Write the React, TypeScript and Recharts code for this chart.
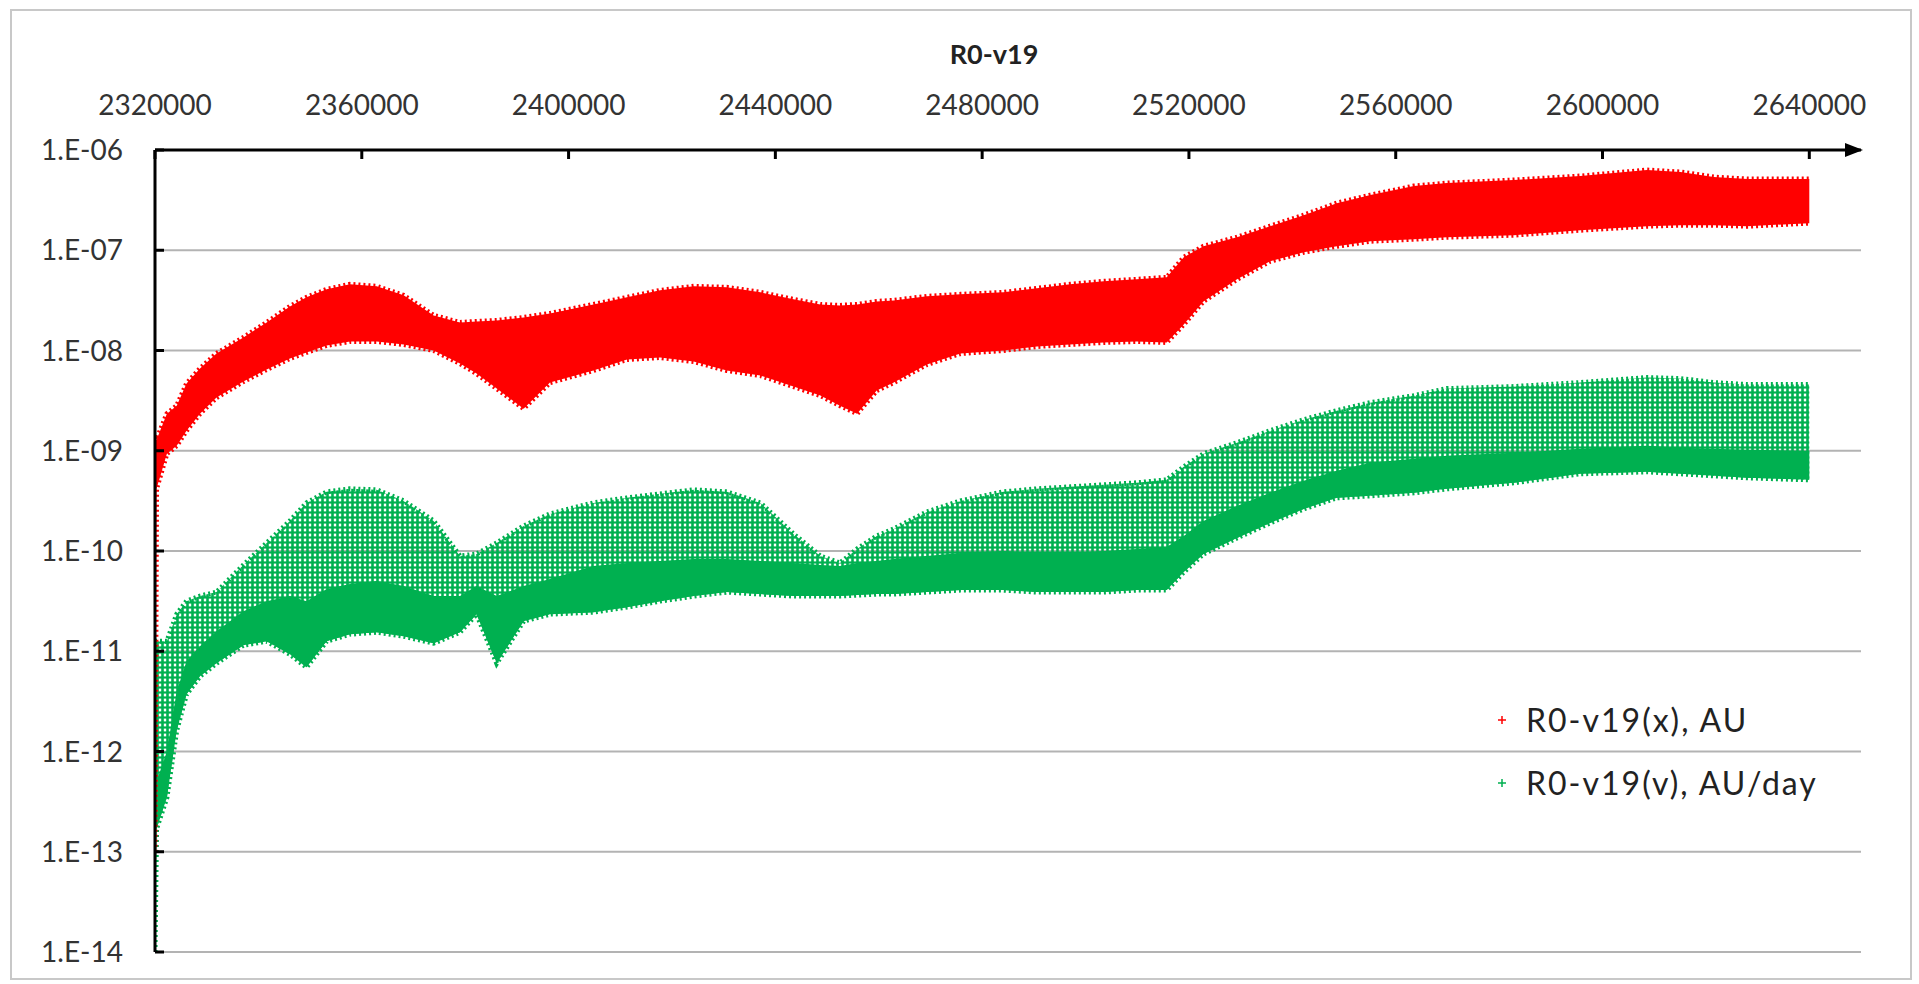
import React from "react";
import { ComposedChart, Area, XAxis, YAxis, CartesianGrid, Legend } from "recharts";

const JD = [
  2320000, 2320300, 2322300, 2324200, 2326100, 2328700, 2331900, 2337100, 2341600, 2346100,
  2349300, 2353200, 2357700, 2362900, 2368100, 2373900, 2379000, 2382200, 2386100, 2391300,
  2396400, 2404800, 2411300, 2417700, 2424200, 2430600, 2437100, 2443500, 2448700, 2452500,
  2455800, 2459600, 2462900, 2469300, 2475800, 2484100, 2490600, 2497000, 2503500, 2509900,
  2515700, 2519000, 2522800, 2529300, 2535700, 2542200, 2548600, 2555100, 2563500, 2569900,
  2582800, 2595700, 2608600, 2615100, 2621500, 2628000, 2640000,
];

// R0-v19(x), AU : upper / lower edge of the scatter band (log10)
const RED_TOP = [
  -8.87, -8.89, -8.63, -8.55, -8.33, -8.18, -8.03, -7.87, -7.72, -7.56,
  -7.47, -7.39, -7.34, -7.36, -7.45, -7.65, -7.72, -7.71, -7.7, -7.67,
  -7.63, -7.54, -7.47, -7.4, -7.36, -7.37, -7.42, -7.49, -7.54, -7.55,
  -7.54, -7.51, -7.5, -7.46, -7.44, -7.42, -7.38, -7.34, -7.31, -7.29,
  -7.27, -7.07, -6.96, -6.87, -6.76, -6.65, -6.53, -6.45, -6.36, -6.33,
  -6.3, -6.26, -6.2, -6.22, -6.27, -6.29, -6.29,
];
const RED_BOT = [
  -13.0, -9.38, -9.03, -8.95, -8.8, -8.63, -8.47, -8.31, -8.19, -8.08,
  -8.02, -7.95, -7.91, -7.91, -7.94, -8.0, -8.13, -8.23, -8.38, -8.58,
  -8.32, -8.2, -8.09, -8.07, -8.11, -8.2, -8.25, -8.36, -8.45, -8.55,
  -8.63, -8.4, -8.32, -8.14, -8.03, -8.0, -7.96, -7.94, -7.92, -7.91,
  -7.92, -7.74, -7.51, -7.29, -7.11, -7.02, -6.96, -6.91, -6.89, -6.87,
  -6.85, -6.8, -6.76, -6.75, -6.75, -6.76, -6.73,
];

// R0-v19(v), AU/day : upper edge, top of the dense part, lower edge (log10)
const GRN_TOP = [
  -10.9, -10.9, -10.9, -10.63, -10.5, -10.45, -10.41, -10.14, -9.92, -9.7,
  -9.52, -9.41, -9.38, -9.39, -9.5, -9.7, -10.05, -10.03, -9.92, -9.75,
  -9.63, -9.52, -9.47, -9.43, -9.39, -9.41, -9.52, -9.83, -10.05, -10.12,
  -9.98, -9.85, -9.78, -9.61, -9.5, -9.41, -9.38, -9.36, -9.34, -9.32,
  -9.29, -9.16, -9.03, -8.92, -8.8, -8.69, -8.6, -8.52, -8.45, -8.38,
  -8.36, -8.32, -8.27, -8.28, -8.32, -8.34, -8.34,
];
const GRN_DENSE = [
  -14.0, -12.3, -12.0, -11.4, -11.1, -10.95, -10.8, -10.6, -10.5, -10.45,
  -10.5, -10.38, -10.33, -10.3, -10.35, -10.45, -10.45, -10.35, -10.45, -10.35,
  -10.28, -10.15, -10.12, -10.1, -10.08, -10.08, -10.1, -10.12, -10.14, -10.15,
  -10.12, -10.1, -10.08, -10.05, -10.02, -10.0, -10.02, -10.02, -10.0, -9.98,
  -9.96, -9.85, -9.7, -9.55, -9.42, -9.3, -9.2, -9.12, -9.08, -9.05,
  -9.02, -8.98, -8.95, -8.97, -8.98, -8.99, -9.0,
];
const GRN_BOT = [
  -14.0, -12.77, -12.46, -11.79, -11.43, -11.25, -11.12, -10.94, -10.9, -11.03,
  -11.16, -10.9, -10.83, -10.81, -10.85, -10.92, -10.81, -10.63, -11.12, -10.7,
  -10.63, -10.61, -10.56, -10.5, -10.45, -10.41, -10.43, -10.45, -10.45, -10.45,
  -10.44, -10.43, -10.43, -10.41, -10.39, -10.39, -10.41, -10.41, -10.41, -10.39,
  -10.39, -10.21, -10.03, -9.87, -9.72, -9.58, -9.47, -9.45, -9.42, -9.38,
  -9.32, -9.23, -9.21, -9.23, -9.25, -9.27, -9.29,
];

const X_TICKS = [2320000, 2360000, 2400000, 2440000, 2480000, 2520000, 2560000, 2600000, 2640000];
const Y_TICKS = [1e-14, 1e-13, 1e-12, 1e-11, 1e-10, 1e-9, 1e-8, 1e-7, 1e-6];
const Y_TICK_LABELS = ["1.E-14", "1.E-13", "1.E-12", "1.E-11", "1.E-10", "1.E-09", "1.E-08", "1.E-07", "1.E-06"];

const SERIES = [
  { name: "R0-v19(x), AU", color: "#ff0000" },
  { name: "R0-v19(v), AU/day", color: "#00b050" },
];

const data = JD.map((jd, i) => ({
  jd,
  x: [10 ** RED_BOT[i], 10 ** RED_TOP[i]],
  v: [10 ** GRN_BOT[i], 10 ** GRN_TOP[i]],
  vDense: [10 ** GRN_BOT[i], 10 ** GRN_DENSE[i]],
}));

const FONT = 'Lato, "Open Sans", sans-serif';

const XTick = ({ x, y, payload }: any) => (
  <g>
    <line x1={x} x2={x} y1={y + 45} y2={y + 54} stroke="#000" strokeWidth={3} />
    <text x={x} y={y + 10} textAnchor="middle" fontSize={28} fontFamily={FONT} fill="#333">
      {payload.value}
    </text>
  </g>
);

const YTick = ({ x, y, payload }: any) => {
  const i = Y_TICKS.indexOf(payload.value);
  return (
    <g>
      <line x1={x + 32} x2={x + 41} y1={y} y2={y} stroke="#000" strokeWidth={3} />
      <text x={x} y={y + 10} textAnchor="end" fontSize={28} fontFamily={FONT} fill="#333">
        {i >= 0 ? Y_TICK_LABELS[i] : payload.value}
      </text>
    </g>
  );
};

const LegendBox = () => (
  <div style={{ fontFamily: FONT }}>
    {SERIES.map((s) => (
      <div key={s.name} style={{ display: "flex", alignItems: "center", height: 63 }}>
        <svg width={16} height={16} style={{ marginRight: 16 }}>
          <path d="M4 8H12M8 4V12" stroke={s.color} strokeWidth={1.5} />
        </svg>
        <span style={{ fontSize: 32, color: "#222", letterSpacing: 2 }}>{s.name}</span>
      </div>
    ))}
  </div>
);

export default function App() {
  return (
    <div style={{ position: "absolute", left: 0, top: 0, width: 1919, height: 984, background: "#fff" }}>
      <div
        style={{
          position: "absolute",
          left: 10,
          top: 9,
          width: 1902,
          height: 971,
          border: "2px solid #c8c8c8",
          boxSizing: "border-box",
        }}
      />
      <div
        style={{
          position: "absolute",
          left: 894,
          top: 40,
          width: 200,
          textAlign: "center",
          fontFamily: FONT,
          fontWeight: 700,
          fontSize: 27,
          lineHeight: "28px",
          color: "#222",
        }}
      >
        R0-v19
      </div>
      <ComposedChart
        width={1919}
        height={984}
        data={data}
        margin={{ top: 90, left: 40, right: 58, bottom: 32 }}
      >
        <defs>
          <marker
            id="axisArrow"
            viewBox="0 0 18 14"
            refX={16}
            refY={7}
            markerWidth={18}
            markerHeight={14}
            markerUnits="userSpaceOnUse"
            orient="auto"
          >
            <path d="M0,0 L18,7 L0,14 z" fill="#000" />
          </marker>
          <pattern id="greenHatch" patternUnits="userSpaceOnUse" width={5} height={5}>
            <path d="M2.5 0V5" stroke="#00b050" strokeWidth={2.6} />
            <path d="M0 2.5H5" stroke="#00b050" strokeWidth={2.2} />
          </pattern>
        </defs>
        <CartesianGrid vertical={false} stroke="#b3b3b3" strokeWidth={2} />
        <XAxis
          dataKey="jd"
          type="number"
          orientation="top"
          height={60}
          domain={[2320000, 2650000]}
          ticks={X_TICKS}
          allowDataOverflow
          tickSize={0}
          tickMargin={45}
          tickLine={false}
          axisLine={{ stroke: "#000", strokeWidth: 3, markerEnd: "url(#axisArrow)" }}
          tick={<XTick />}
        />
        <YAxis
          scale="log"
          domain={[1e-14, 1e-6]}
          ticks={Y_TICKS}
          allowDataOverflow
          width={115}
          tickSize={0}
          tickMargin={32}
          tickLine={false}
          axisLine={{ stroke: "#000", strokeWidth: 3 }}
          tick={<YTick />}
        />
        <Area
          dataKey="v"
          name={SERIES[1].name}
          type="linear"
          fill="url(#greenHatch)"
          fillOpacity={1}
          stroke="#00b050"
          strokeWidth={5}
          strokeDasharray="2 3"
          dot={false}
          activeDot={false}
          isAnimationActive={false}
        />
        <Area
          dataKey="vDense"
          type="linear"
          fill="#00b050"
          fillOpacity={1}
          stroke="none"
          dot={false}
          activeDot={false}
          legendType="none"
          isAnimationActive={false}
        />
        <Area
          dataKey="x"
          name={SERIES[0].name}
          type="linear"
          fill="#ff0000"
          fillOpacity={1}
          stroke="#ff0000"
          strokeWidth={5}
          strokeDasharray="2 3"
          dot={false}
          activeDot={false}
          isAnimationActive={false}
        />
        <Legend
          layout="horizontal"
          verticalAlign="middle"
          align="center"
          wrapperStyle={{ left: 1494, top: 688, width: 420, height: 126 }}
          content={() => <LegendBox />}
        />
      </ComposedChart>
    </div>
  );
}
